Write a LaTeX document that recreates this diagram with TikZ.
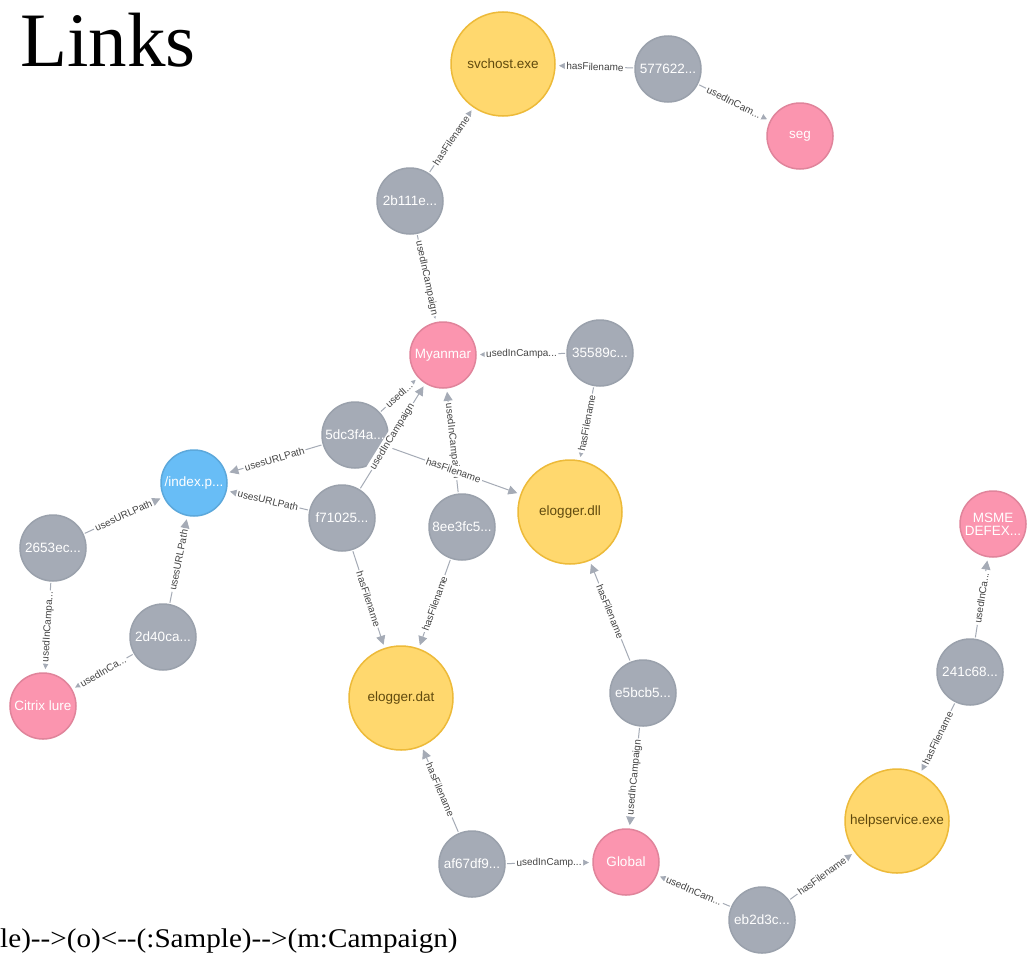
\documentclass[tikz,border=0pt]{standalone}
\usepackage{fontspec}
\setmainfont{Liberation Sans}
\newfontfamily\headfont{Liberation Serif}
\newfontfamily\queryfont[FakeStretch=1.08]{Liberation Serif}
\usetikzlibrary{arrows.meta}

\definecolor{samplefill}{HTML}{A5ABB6}
\definecolor{sampleline}{HTML}{9AA1AC}
\definecolor{campfill}{HTML}{FB95AF}
\definecolor{campline}{HTML}{E0849B}
\definecolor{filefill}{HTML}{FFD86E}
\definecolor{fileline}{HTML}{EDBA39}
\definecolor{filetext}{HTML}{604A0E}
\definecolor{urlfill}{HTML}{68BDF6}
\definecolor{urlline}{HTML}{5CA8DB}
\definecolor{relcol}{HTML}{A5ABB6}
\definecolor{reltext}{HTML}{444444}

\tikzset{
  gnode/.style={circle, minimum size=66pt, inner sep=0pt, line width=1.5pt,
    outer sep=2pt, align=center, font=\fontsize{13.5}{15}\selectfont},
  sample/.style={gnode, fill=samplefill, draw=sampleline, text=white},
  campaign/.style={gnode, fill=campfill, draw=campline, text=white},
  urlpath/.style={gnode, fill=urlfill, draw=urlline, text=white},
  filename/.style={gnode, minimum size=104pt, fill=filefill, draw=fileline, text=filetext},
  rel/.style={draw=relcol, line width=1pt, -{Triangle[length=9pt,width=9pt]}, shorten >=2pt},
  rlabel/.style={midway, sloped, fill=white, inner sep=1.5pt,
    font=\fontsize{10}{11}\selectfont, text=reltext},
}

\begin{document}
\begin{tikzpicture}[x=1pt, y=-1pt]
\useasboundingbox[fill=white] (0,0) rectangle (1027,953);

% headings
\node[anchor=base west, inner sep=0pt, font=\headfont\fontsize{77}{80}\selectfont] (title) at (20,66) {Links};
\node[anchor=base west, inner sep=0pt, font=\queryfont\fontsize{27}{30}\selectfont] (query) at (0,947)
  {le)-{}->(o)<-{}-(:Sample)-{}->(m:Campaign)};

% file names
\node[filename] (svchost) at (503,64) {svchost.exe};
\node[filename] (edll) at (570,512) {elogger.dll};
\node[filename] (edat) at (401,698) {elogger.dat};
\node[filename] (help) at (897,821) {helpservice.exe};

% campaigns
\node[campaign] (seg) at (800,136) {seg};
\node[campaign] (myanmar) at (443,355) {Myanmar};
\node[campaign] (citrix) at (43,706) {Citrix lure};
\node[campaign] (global) at (626,862) {Global};
\node[campaign] (msme) at (993,524) {MSME\\[-2pt]DEFEX...};

% url path
\node[urlpath] (index) at (194,483) {/index.p...};

% samples
\node[sample] (s577) at (668,69) {577622...};
\node[sample] (s2b1) at (410,201) {2b111e...};
\node[sample] (s355) at (600,353) {35589c...};
\node[sample] (s5dc) at (355,435) {5dc3f4a...};
\node[sample] (sf71) at (342,518) {f71025...};
\node[sample] (s8ee) at (462,527) {8ee3fc5...};
\node[sample] (s265) at (53,548) {2653ec...};
\node[sample] (s2d4) at (163,637) {2d40ca...};
\node[sample] (se5b) at (643,693) {e5bcb5...};
\node[sample] (s241) at (970,672) {241c68...};
\node[sample] (saf6) at (472,864) {af67df9...};
\node[sample] (seb2) at (762,920) {eb2d3c...};

% relationships
\draw[rel] (s577) -- node[rlabel]{hasFilename} (svchost);
\draw[rel] (s577) -- node[rlabel]{usedInCam...} (seg);
\draw[rel] (s2b1) -- node[rlabel]{hasFilename} (svchost);
\draw[rel] (s2b1) -- node[rlabel]{usedInCampaign} (myanmar);
\draw[rel] (s355) -- node[rlabel]{usedInCampa...} (myanmar);
\draw[rel] (s355) -- node[rlabel]{hasFilename} (edll);
\draw[rel] (s5dc) -- node[rlabel]{usedI...} (myanmar);
\draw[rel] (s5dc) -- node[rlabel]{usesURLPath} (index);
\draw[rel] (s8ee) -- node[rlabel]{usedInCampaign} (myanmar);
\draw[rel] (s5dc) -- node[rlabel]{hasFilename} (edll);
\draw[rel] (sf71) -- node[rlabel]{usedInCampaign} (myanmar);
\draw[rel] (sf71) -- node[rlabel]{usesURLPath} (index);
\draw[rel] (sf71) -- node[rlabel]{hasFilename} (edat);
\draw[rel] (s8ee) -- node[rlabel]{hasFilename} (edat);
\draw[rel] (s265) -- node[rlabel]{usesURLPath} (index);
\draw[rel] (s265) -- node[rlabel]{usedInCampa...} (citrix);
\draw[rel] (s2d4) -- node[rlabel]{usesURLPath} (index);
\draw[rel] (s2d4) -- node[rlabel]{usedInCa...} (citrix);
\draw[rel] (se5b) -- node[rlabel]{hasFilename} (edll);
\draw[rel] (se5b) -- node[rlabel]{usedInCampaign} (global);
\draw[rel] (saf6) -- node[rlabel]{hasFilename} (edat);
\draw[rel] (saf6) -- node[rlabel]{usedInCamp...} (global);
\draw[rel] (seb2) -- node[rlabel]{usedInCam...} (global);
\draw[rel] (seb2) -- node[rlabel]{hasFilename} (help);
\draw[rel] (s241) -- node[rlabel]{hasFilename} (help);
\draw[rel] (s241) -- node[rlabel]{usedInCa...} (msme);
\end{tikzpicture}
\end{document}
